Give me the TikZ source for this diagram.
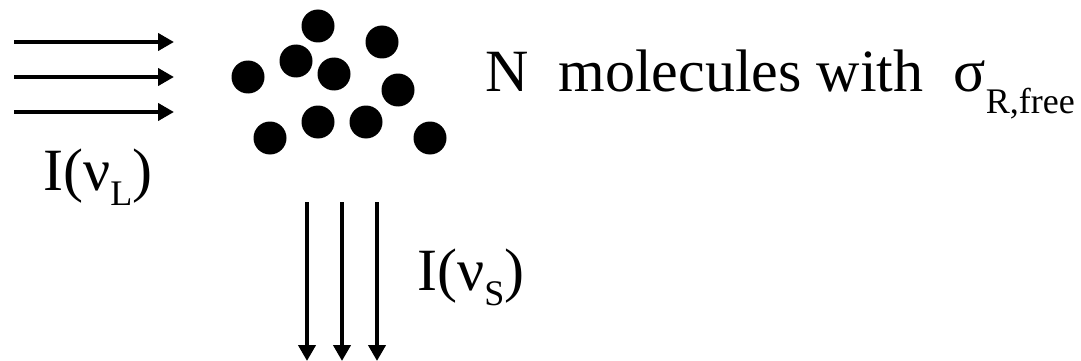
\documentclass[tikz,border=0pt]{standalone}
\usepackage{fontspec}
\setmainfont{Liberation Serif}
\usepackage{tikz}
\usetikzlibrary{arrows.meta, positioning}

\newcommand{\subtxt}[2]{\raisebox{#1}{\fontsize{36}{36}\selectfont #2}}

\begin{document}
\begin{tikzpicture}[x=1pt, y=-1pt, font=\fontsize{60}{72}\selectfont,
    >={Triangle[length=16pt, width=17pt]},
    beam/.style={->, line width=4.5pt},
    molecule/.style={circle, fill=black, minimum size=33pt, inner sep=0pt},
    label/.style={inner sep=0pt, anchor=base west}]
    \useasboundingbox (0,0) rectangle (1081,361);

    % incoming laser beams
    \coordinate (inA) at (14,42);
    \coordinate (inB) at (14,77);
    \coordinate (inC) at (14,112);
    \coordinate (inA') at (174,42);
    \coordinate (inB') at (174,77);
    \coordinate (inC') at (174,112);
    \draw[beam] (inA) -- (inA');
    \draw[beam] (inB) -- (inB');
    \draw[beam] (inC) -- (inC');
    \node[label] (inlabel) at (43,190) {I(ν\subtxt{-15pt}{L})};

    % molecules
    \node[molecule] (m1) at (318,26) {};
    \node[molecule] (m2) at (382,42) {};
    \node[molecule] (m3) at (296,61) {};
    \node[molecule] (m4) at (248,77) {};
    \node[molecule] (m5) at (334,74) {};
    \node[molecule] (m6) at (398,90) {};
    \node[molecule] (m7) at (318,122) {};
    \node[molecule] (m8) at (366,122) {};
    \node[molecule] (m9) at (270,138) {};
    \node[molecule] (m10) at (430,138) {};
    \node[label] (gas) at (485,92) {N\ \ molecules with\ \ σ\subtxt{-21pt}{R,free}};

    % scattered light
    \coordinate (outA) at (307,202);
    \coordinate (outB) at (342,202);
    \coordinate (outC) at (377,202);
    \coordinate (outA') at (307,361);
    \coordinate (outB') at (342,361);
    \coordinate (outC') at (377,361);
    \draw[beam] (outA) -- (outA');
    \draw[beam] (outB) -- (outB');
    \draw[beam] (outC) -- (outC');
    \node[label] (outlabel) at (417,290) {I(ν\subtxt{-15pt}{S})};
\end{tikzpicture}
\end{document}
